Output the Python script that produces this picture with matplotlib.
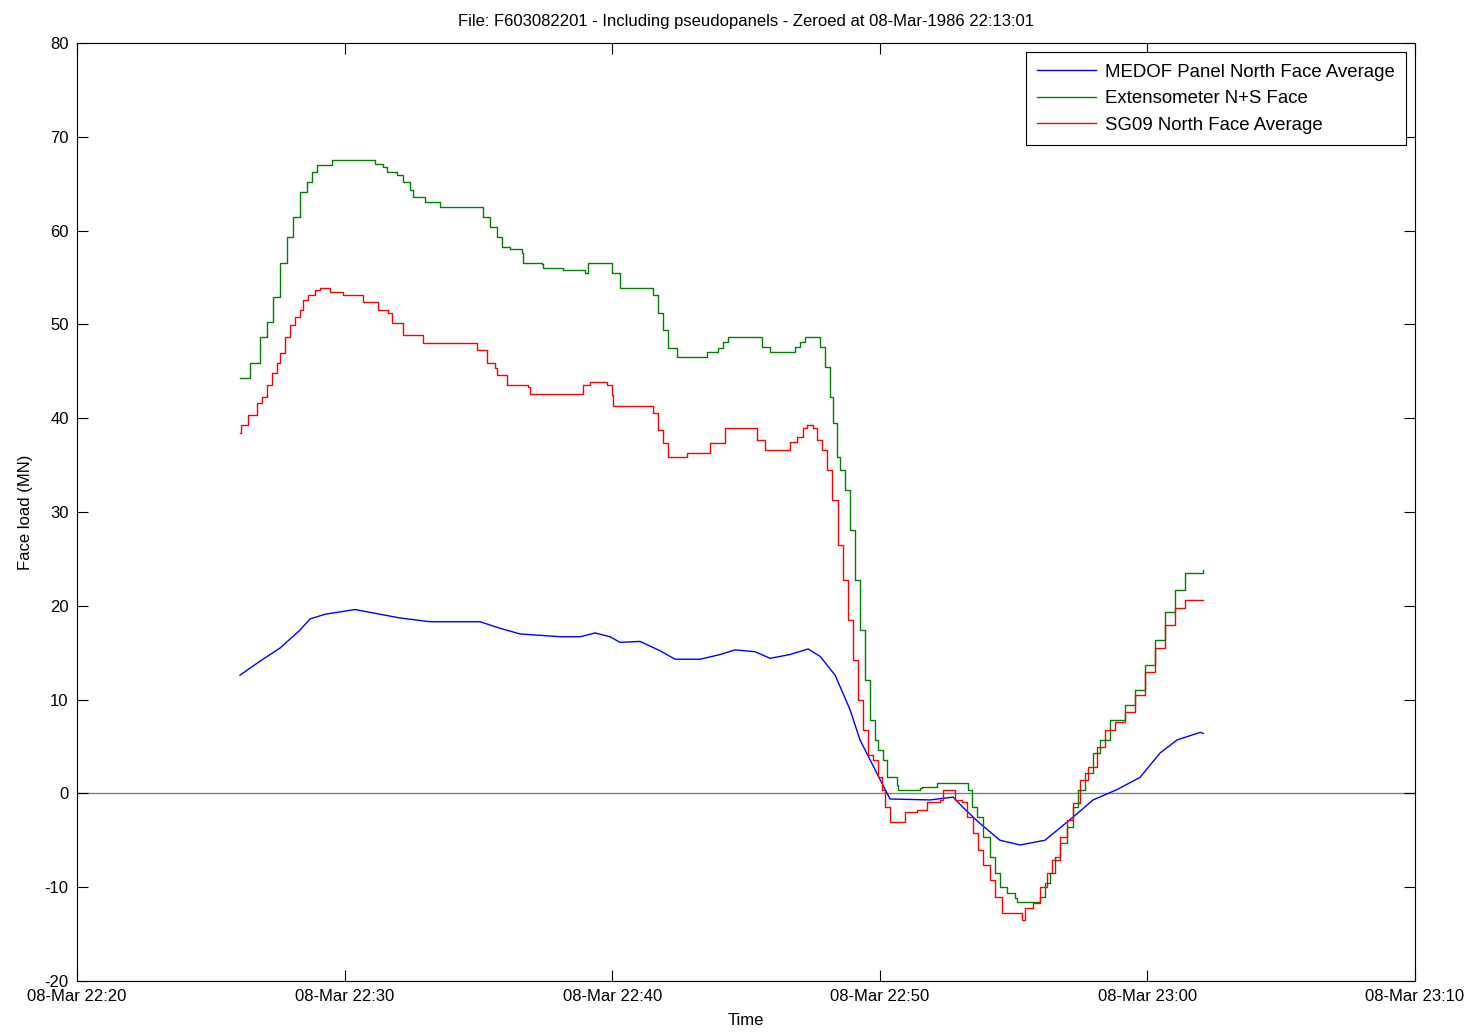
import pandas as pd
import matplotlib
matplotlib.use("Agg")
import matplotlib.pyplot as plt
import matplotlib.dates as mdates

plt.rcParams['font.family'] = ['Liberation Sans', 'DejaVu Sans']
plt.rcParams['axes.unicode_minus'] = False

start = pd.Timestamp('1986-03-08 22:20:00')

# MEDOF panel average (minutes after 22:20, MN)
medof_t = [6.09, 6.84, 7.59, 8.33, 8.71, 9.27, 10.39, 11.32, 12.07, 13.19, 14.31,
           15.06, 15.81, 16.55, 18.05, 18.80, 19.36, 19.92, 20.29, 21.04, 21.79,
           22.35, 23.28, 24.03, 24.59, 25.34, 25.90, 26.64, 27.32, 27.77, 28.33,
           28.89, 29.26, 29.88, 30.38, 31.88, 32.74, 33.11, 33.74, 34.49, 35.24,
           36.17, 37.11, 37.97, 38.86, 39.72, 40.47, 41.11, 41.97, 42.08]
medof_v = [12.6, 14.1, 15.5, 17.4, 18.6, 19.1, 19.6, 19.1, 18.7, 18.3, 18.3,
           18.3, 17.6, 17.0, 16.7, 16.7, 17.1, 16.7, 16.1, 16.2, 15.2,
           14.3, 14.3, 14.8, 15.3, 15.1, 14.4, 14.8, 15.4, 14.6, 12.6,
           8.9, 5.7, 2.2, -0.6, -0.7, -0.4, -1.5, -3.2, -5.0, -5.5,
           -5.0, -2.8, -0.7, 0.4, 1.7, 4.3, 5.7, 6.5, 6.4]

# Extensometer N+S face
ext_t = [6.09, 6.46, 6.84, 7.10, 7.32, 7.59, 7.85, 8.07, 8.33, 8.59, 8.78, 8.97,
         9.53, 11.06, 11.14, 11.43, 11.58, 11.96, 12.18, 12.44, 12.56, 12.93, 13.00,
         13.57, 14.99, 15.17, 15.43, 15.70, 15.88, 16.18, 16.63, 16.67, 17.38, 17.41,
         18.16, 18.98, 19.10, 19.84, 19.99, 20.29, 21.41, 21.52, 21.71, 21.90, 22.09,
         22.42, 23.54, 23.95, 24.14, 24.33, 25.41, 25.60, 25.90, 26.72, 26.83, 27.02,
         27.20, 27.65, 27.77, 27.95, 28.14, 28.25, 28.40, 28.51, 28.70, 28.89, 29.07,
         29.26, 29.45, 29.63, 29.82, 29.93, 30.12, 30.27, 30.64, 30.68, 31.50, 31.58,
         32.14, 33.18, 33.30, 33.45, 33.63, 33.86, 34.12, 34.30, 34.49, 34.75, 35.05,
         35.13, 35.87, 35.99, 36.17, 36.36, 36.55, 36.73, 37.00, 37.22, 37.41, 37.67,
         37.97, 38.23, 38.60, 39.16, 39.54, 39.91, 40.28, 40.66, 41.03, 41.41, 42.08]
ext_v = [44.3, 45.9, 48.7, 50.3, 52.9, 56.5, 59.3, 61.5, 64.1, 65.2, 66.2, 67.0,
         67.5, 67.5, 67.1, 66.8, 66.2, 65.9, 65.2, 64.3, 63.6, 63.6, 63.1,
         62.5, 62.5, 61.5, 60.4, 59.3, 58.3, 58.0, 57.6, 56.5, 56.4, 56.0,
         55.8, 55.5, 56.5, 56.5, 55.5, 53.9, 53.9, 53.1, 51.2, 49.4, 47.5,
         46.5, 47.1, 47.5, 48.1, 48.7, 48.7, 47.6, 47.1, 47.1, 47.6, 48.1,
         48.7, 48.7, 47.6, 45.5, 42.3, 39.5, 35.9, 34.5, 32.3, 28.1, 22.8,
         17.4, 12.1, 7.8, 5.7, 4.6, 3.6, 1.7, 0.9, 0.4, 0.6, 0.7,
         1.1, 1.1, 0.4, -1.5, -2.5, -4.6, -6.8, -8.5, -10.0, -10.6, -11.2,
         -11.6, -11.6, -11.0, -9.6, -8.5, -6.8, -5.3, -3.6, -1.5, 0.4, 2.2,
         4.3, 5.7, 7.8, 9.4, 11.0, 13.7, 16.4, 19.3, 21.7, 23.5, 23.8]

# SG09 north face average
sg09_t = [6.09, 6.12, 6.39, 6.73, 6.91, 7.10, 7.29, 7.47, 7.59, 7.77,
          7.96, 8.15, 8.33, 8.45, 8.63, 8.89, 9.08, 9.45, 9.94, 10.69,
          11.25, 11.62, 11.77, 12.18, 12.93, 14.95, 15.32, 15.62, 15.70, 16.07,
          16.85, 16.93, 18.91, 19.17, 19.81, 19.99, 20.03, 21.52, 21.71, 21.90,
          22.09, 22.80, 23.65, 24.22, 25.41, 25.71, 26.64, 26.91, 27.13, 27.28,
          27.50, 27.65, 27.84, 28.03, 28.21, 28.44, 28.63, 28.81, 29.00, 29.19,
          29.37, 29.56, 29.75, 29.93, 30.08, 30.19, 30.38, 30.94, 31.39, 31.76,
          32.25, 32.36, 32.81, 33.07, 33.26, 33.48, 33.67, 33.86, 34.12, 34.30,
          34.57, 35.31, 35.43, 35.72, 35.99, 36.25, 36.44, 36.73, 37.00, 37.22,
          37.48, 37.78, 38.12, 38.42, 38.79, 39.16, 39.54, 39.91, 40.28, 40.66,
          41.03, 41.41, 42.08]
sg09_v = [38.4, 39.3, 40.3, 41.6, 42.3, 43.5, 44.8, 45.9, 47.0, 48.7,
          49.9, 50.8, 51.5, 52.6, 53.1, 53.7, 53.9, 53.5, 53.1, 52.4,
          51.5, 51.2, 50.1, 48.9, 48.0, 47.3, 45.9, 45.4, 44.6, 43.5,
          43.3, 42.6, 43.5, 43.9, 43.5, 42.5, 41.3, 40.6, 38.7, 37.4,
          35.9, 36.3, 37.4, 39.0, 37.7, 36.6, 37.5, 38.0, 39.0, 39.3,
          39.0, 37.7, 36.6, 34.5, 31.3, 26.5, 22.8, 18.5, 14.2, 10.0,
          6.8, 4.1, 3.6, 1.7, 0.4, -1.5, -3.0, -2.0, -1.8, -0.9,
          -0.7, 0.4, -0.7, -0.9, -2.5, -4.2, -6.0, -7.6, -9.2, -11.0,
          -12.8, -13.5, -12.2, -11.7, -10.0, -8.5, -7.1, -4.6, -2.8, -1.0,
          1.4, 2.8, 4.9, 6.8, 7.6, 8.7, 10.5, 12.9, 15.5, 18.0,
          19.8, 20.6, 20.6]


def to_time(minutes):
    return start + pd.to_timedelta(minutes, unit='min')


fig = plt.figure(figsize=(14.78, 10.34), dpi=100)
ax = fig.add_axes([0.0521, 0.0513, 0.9053, 0.9071])

ax.axhline(0, color=(0.5, 0.5, 0.5), linewidth=1.0, zorder=1)
ax.plot(to_time(medof_t), medof_v, color=(0, 0, 1), linewidth=1.0,
        label='MEDOF Panel North Face Average')
ax.plot(to_time(ext_t), ext_v, color=(0, 0.5, 0), linewidth=1.0,
        drawstyle='steps-post', label='Extensometer N+S Face')
ax.plot(to_time(sg09_t), sg09_v, color=(1, 0, 0), linewidth=1.0,
        drawstyle='steps-post', label='SG09 North Face Average')

ax.set_xlim(start, start + pd.Timedelta(minutes=50))
ax.set_ylim(-20, 80)
ax.xaxis.set_major_locator(mdates.MinuteLocator(byminute=[0, 10, 20, 30, 40, 50]))
ax.xaxis.set_major_formatter(mdates.DateFormatter('%d-%b %H:%M'))
ax.set_yticks(range(-20, 81, 10))

ax.tick_params(direction='in', length=8, width=0.8, top=True, right=True,
               labelsize=12, pad=6)
for sp in ax.spines.values():
    sp.set_linewidth(0.8)

ax.set_xlabel('Time', fontsize=12, labelpad=6)
ax.set_ylabel('Face load (MN)', fontsize=12, labelpad=8)
ax.set_title('File: F603082201 - Including pseudopanels - Zeroed at 08-Mar-1986 22:13:01',
             fontsize=12, pad=12)

leg = ax.legend(loc='upper right', fontsize=13.4, fancybox=False, framealpha=1,
                edgecolor='black', handlelength=3.2, handletextpad=0.45,
                borderaxespad=0.5, borderpad=0.6, labelspacing=0.52)
leg.get_frame().set_linewidth(0.8)

fig.savefig('out.png', dpi=100)
